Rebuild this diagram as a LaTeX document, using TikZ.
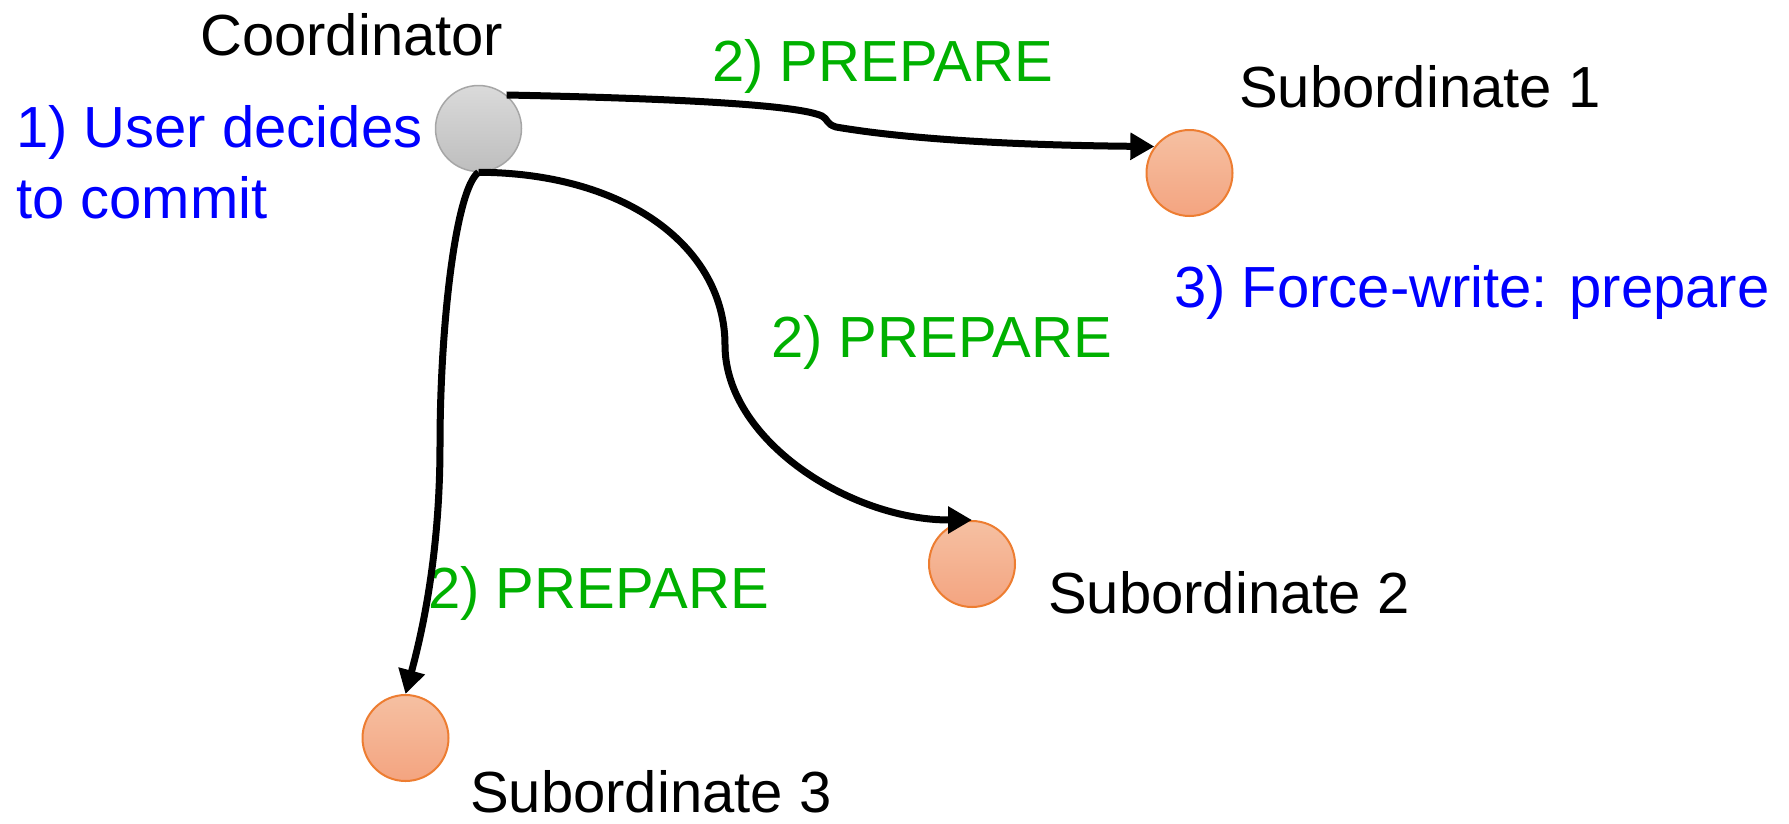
\documentclass[tikz,border=0pt]{standalone}
\usepackage{fontspec}
\setmainfont{Liberation Sans}
\usetikzlibrary{arrows.meta}
\definecolor{txtblue}{RGB}{0,0,255}
\definecolor{txtgreen}{RGB}{0,176,0}
\definecolor{subtop}{RGB}{245,192,162}
\definecolor{subbot}{RGB}{244,164,128}
\definecolor{subline}{RGB}{237,125,49}
\definecolor{cotop}{RGB}{218,218,218}
\definecolor{cobot}{RGB}{190,190,190}
\definecolor{coline}{RGB}{166,166,166}
\tikzset{
  lbl/.style={anchor=base west, inner sep=0pt, font=\fontsize{58}{66}\selectfont},
  conode/.style={circle, minimum size=86pt, inner sep=0pt, draw=coline, line width=1.5pt, top color=cotop, bottom color=cobot},
  subnode/.style={circle, minimum size=86pt, inner sep=0pt, draw=subline, line width=2pt, top color=subtop, bottom color=subbot},
  conn/.style={line width=7pt, -{Triangle[length=24pt,width=26pt]}}
}
\begin{document}
\begin{tikzpicture}[x=1pt,y=-1pt]
\useasboundingbox (0,0) rectangle (1789,823);
\node[conode] (co) at (478.5,128.5) {};
\node[subnode] (s1) at (1189.5,173) {};
\node[subnode] (s2) at (972,564) {};
\node[subnode] (s3) at (405.5,738) {};
\node[lbl] (tco) at (200,55) {Coordinator};
\node[lbl, text=txtblue] (tu1) at (16,147) {1) User decides};
\node[lbl, text=txtblue] (tu2) at (16,218) {to commit};
\node[lbl, text=txtgreen] (tp1) at (712,81) {2) PREPARE};
\node[lbl] (ts1) at (1239,107) {Subordinate 1};
\node[lbl, text=txtblue] (tf) at (1174,307) {3) Force-write: prepare};
\node[lbl, text=txtgreen] (tp2) at (771,357) {2) PREPARE};
\node[lbl, text=txtgreen] (tp3) at (428,608) {2) PREPARE};
\node[lbl] (ts2) at (1048,613) {Subordinate 2};
\node[lbl] (ts3) at (470,812) {Subordinate 3};
\coordinate (k1) at (822,116);
\coordinate (k2) at (836,127);
\coordinate (m2) at (725,345);
\coordinate (m3) at (440,445);
\draw[conn] (co.50) .. controls (700,99) and (800,106) .. (k1) .. controls (828,119) and (826,124) .. (k2) .. controls (900,138) and (1000,145) .. (s1.143);
\draw[conn] (co.south) .. controls (630,173) and (725,250) .. (m2) .. controls (725,440) and (850,520) .. (s2.north);
\draw[conn] (co.south) .. controls (455,190) and (440,330) .. (m3) .. controls (440,560) and (420,640) .. (s3.north);
\end{tikzpicture}
\end{document}
